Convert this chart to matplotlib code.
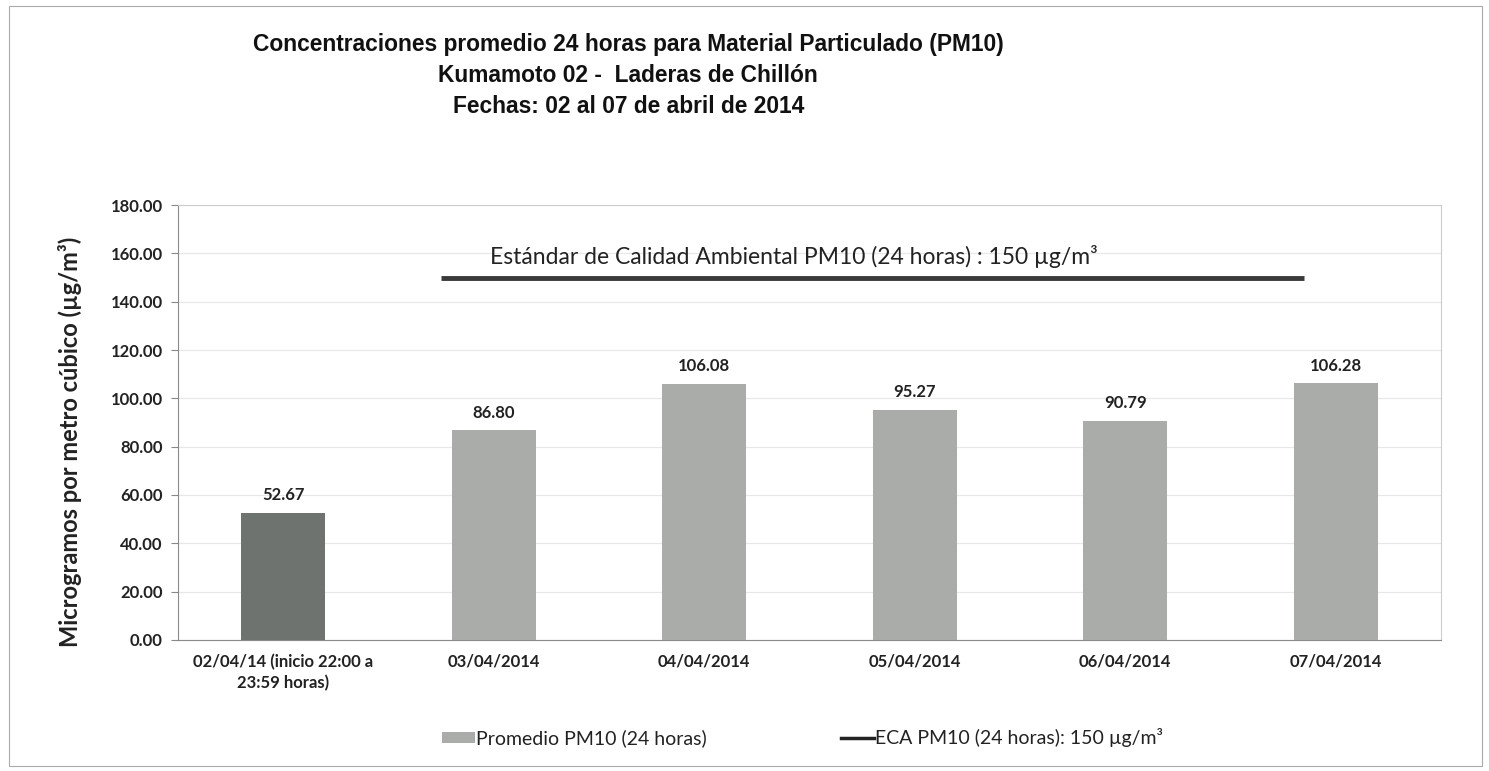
import matplotlib.pyplot as plt
from matplotlib.patches import Rectangle, Patch
from matplotlib.lines import Line2D

# datos
fechas = ["02/04/14 (inicio 22:00 a\n23:59 horas)", "03/04/2014", "04/04/2014",
          "05/04/2014", "06/04/2014", "07/04/2014"]
promedio = [52.67, 86.80, 106.08, 95.27, 90.79, 106.28]
eca = 150
yticks = [0, 20, 40, 60, 80, 100, 120, 140, 160, 180]

gris_claro = "#a9aca9"
colores = ["#6f736f"] + [gris_claro] * 5
fuente = ["Lato", "DejaVu Sans"]

fig = plt.figure(figsize=(14.89, 7.71), dpi=100)
ax = fig.add_axes([0.1195, 0.170, 0.8483, 0.564])

x = range(len(fechas))
ax.bar(x, promedio, width=0.4, color=colores, zorder=3)
for i, v in enumerate(promedio):
    ax.text(i, v + 4, f"{v:.2f}", ha="center", va="bottom", fontsize=12,
            fontweight="bold", family=fuente, color="#222222")

# linea del estandar
ax.hlines(eca, 0.75, 4.85, color="#3a3a3a", lw=3.5, zorder=4)
ax.text(0.98, eca + 4, "Estándar de Calidad Ambiental PM10 (24 horas) : 150 µg/m³",
        fontsize=16.5, family=fuente, color="#222222", va="bottom")

ax.set_xlim(-0.5, 5.5)
ax.set_ylim(0, 180)
ax.set_yticks(yticks)
ax.set_yticklabels([f"{t:.2f}" for t in yticks], fontsize=12, fontweight="bold",
                   family=fuente, color="#222222")
ax.set_xticks(list(x))
ax.set_xticklabels(fechas, fontsize=12, fontweight="bold", family=fuente,
                   color="#222222", linespacing=1.4)
ax.tick_params(axis="x", length=0, pad=10)
ax.tick_params(axis="y", length=5, color="#888888", pad=6)
ax.grid(axis="y", color="#e8e8e8", lw=0.9, zorder=0)
for s in ["left", "bottom"]:
    ax.spines[s].set_color("#8a8a8a")
for s in ["top", "right"]:
    ax.spines[s].set_color("#cccccc")

ax.set_ylabel("Microgramos por metro cúbico (µg/m³)", fontsize=17, fontweight="bold",
              family=fuente, color="#222222")
ax.yaxis.set_label_coords(-0.076, 0.455)

fig.text(0.422, 0.957, "Concentraciones promedio 24 horas para Material Particulado (PM10)\n"
         "Kumamoto 02 -  Laderas de Chillón\nFechas: 02 al 07 de abril de 2014",
         ha="center", va="top", fontsize=16.4, fontweight="bold",
         family="Liberation Sans", linespacing=1.45, color="#111111")

handles = [Patch(facecolor=gris_claro, edgecolor="none"),
           Line2D([], [], color="#222222", lw=2.5)]
labels = ["Promedio PM10 (24 horas)", "ECA PM10 (24 horas): 150 µg/m³"]
leg = fig.legend(handles, labels, loc="center", bbox_to_anchor=(0.539, 0.043), ncol=2,
                 frameon=False, prop={"family": fuente, "size": 14}, columnspacing=6.9,
                 handlelength=1.7, handleheight=0.55, handletextpad=0.05)
for t in leg.get_texts():
    t.set_color("#222222")

fig.patches.append(Rectangle((0.006, 0.006), 0.989, 0.986, transform=fig.transFigure,
                             fill=False, edgecolor="#aaaaaa", lw=0.8))

plt.savefig("out.png", dpi=100)
